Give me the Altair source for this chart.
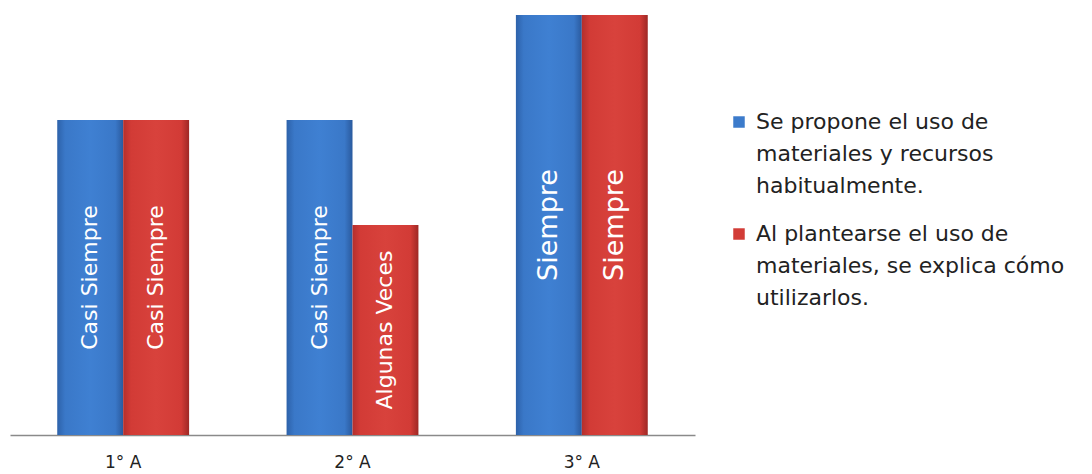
import altair as alt
import pandas as pd

grupos = ["1° A", "2° A", "3° A"]
series = [
    "Se propone el uso de materiales y recursos habitualmente.",
    "Al plantearse el uso de materiales, se explica cómo utilizarlos.",
]
valores_s1 = [3, 3, 4]
valores_s2 = [3, 2, 4]
etiquetas_s1 = ["Casi Siempre", "Casi Siempre", "Siempre"]
etiquetas_s2 = ["Casi Siempre", "Algunas Veces", "Siempre"]
leyenda_lineas = [
    ["Se propone el uso de", "materiales y recursos", "habitualmente."],
    ["Al plantearse el uso de", "materiales, se explica cómo", "utilizarlos."],
]

FONT = "DejaVu Sans"
AZUL = "#3c7bcb"
ROJO = "#d23c37"

rows = []
for g, v, e in zip(grupos, valores_s1, etiquetas_s1):
    rows.append({"grupo": g, "serie": series[0], "valor": v, "etiqueta": e})
for g, v, e in zip(grupos, valores_s2, etiquetas_s2):
    rows.append({"grupo": g, "serie": series[1], "valor": v, "etiqueta": e})
df = pd.DataFrame(rows)

leg_rows = []
for i, (s, lines) in enumerate(zip(series, leyenda_lineas)):
    for j, t in enumerate(lines):
        leg_rows.append({"serie": s, "texto": t, "pos": i * 3.5 + j, "primera": j == 0})
ldf = pd.DataFrame(leg_rows)

x_enc = alt.X(
    "grupo:N",
    sort=grupos,
    scale=alt.Scale(paddingInner=0.425, paddingOuter=0.206),
    axis=alt.Axis(
        title=None, ticks=False, labelAngle=0, labelFont=FONT, labelFontSize=17,
        labelColor="#222222", labelPadding=19, domainColor="#8a8a8a", domainWidth=1.5,
    ),
)
xo_enc = alt.XOffset("serie:N", sort=series, scale=alt.Scale(domain=series, paddingInner=0, paddingOuter=0))
y_enc = alt.Y("valor:Q", scale=alt.Scale(domain=[0, 4], nice=False, zero=True), axis=None)


def grad(c_edge_l, c_mid, c_mid2, c_edge_r):
    return alt.LinearGradient(
        gradient="linear", x1=0, x2=1, y1=0, y2=0,
        stops=[
            alt.GradientStop(offset=0, color=c_edge_l),
            alt.GradientStop(offset=0.12, color=c_mid),
            alt.GradientStop(offset=0.5, color=c_mid2),
            alt.GradientStop(offset=0.88, color=c_mid),
            alt.GradientStop(offset=1, color=c_edge_r),
        ],
    )


base = alt.Chart(df)
bars_azul = base.transform_filter(alt.datum.serie == series[0]).mark_bar(
    color=grad("#2d62aa", "#3a78c8", "#3f80d2", "#2a5a9e")
).encode(x=x_enc, xOffset=xo_enc, y=y_enc)
bars_rojo = base.transform_filter(alt.datum.serie == series[1]).mark_bar(
    color=grad("#b42f2c", "#d23b36", "#d8423c", "#9e2825")
).encode(x=x_enc, xOffset=xo_enc, y=y_enc)

labels = base.transform_calculate(mid="datum.valor / 2").mark_text(
    angle=270, align="center", baseline="middle", color="white", font=FONT
).encode(
    x=x_enc, xOffset=xo_enc,
    y=alt.Y("mid:Q", scale=alt.Scale(domain=[0, 4], nice=False), axis=None),
    text="etiqueta:N",
    size=alt.condition("datum.etiqueta == 'Siempre'", alt.value(27), alt.value(22)),
)

main = alt.layer(bars_azul, bars_rojo, labels).properties(width=685, height=420)

ly = alt.Y("pos:Q", scale=alt.Scale(domain=[-3.344, 9.781], reverse=True, nice=False, zero=False), axis=None)
lbase = alt.Chart(ldf)
squares = lbase.transform_filter("datum.primera").mark_square(size=132, opacity=1).encode(
    x=alt.value(6),
    y=ly,
    color=alt.Color("serie:N", scale=alt.Scale(domain=series, range=[AZUL, ROJO]), legend=None),
)
texts = lbase.mark_text(align="left", baseline="middle", font=FONT, fontSize=22, color="#222222").encode(
    x=alt.value(23), y=ly, text="texto:N"
)
legend = alt.layer(squares, texts).properties(width=335, height=420)

chart = alt.hconcat(main, legend, spacing=38).properties(
    padding={"left": 2, "top": 7, "right": 0, "bottom": 0}
).configure_view(stroke=None).resolve_scale(color="independent", y="independent")

chart.save("out.html", embed_options={"renderer": "svg", "actions": False})
